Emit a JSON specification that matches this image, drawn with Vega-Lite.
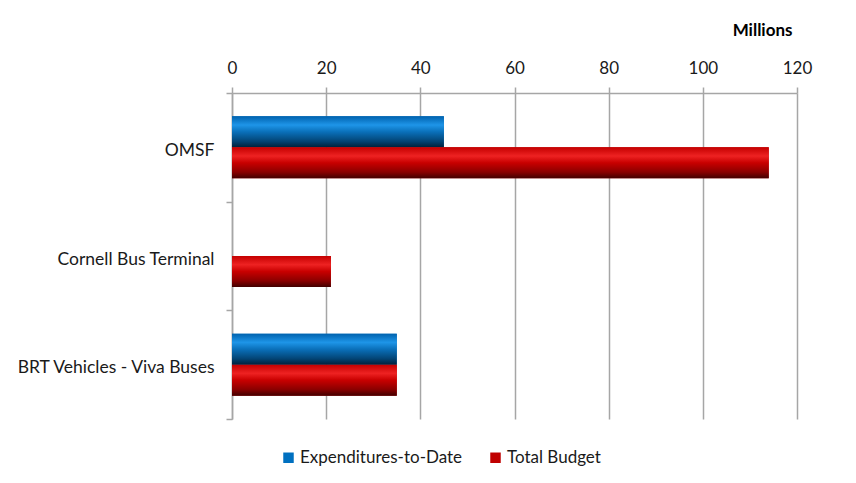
{
  "$schema": "https://vega.github.io/schema/vega-lite/v6.json",
  "autosize": "none",
  "width": 565,
  "height": 326,
  "padding": {"left": 232, "top": 93, "right": 59, "bottom": 64},
  "background": "white",
  "config": {
    "view": {"stroke": null},
    "font": "Lato",
    "axis": {"labelFont": "Lato", "titleFont": "Lato", "labelColor": "#000000", "titleColor": "#000000"}
  },
  "data": {
    "values": [
      {"project": "OMSF", "series": "Expenditures-to-Date", "value": 45},
      {"project": "OMSF", "series": "Total Budget", "value": 114},
      {"project": "Cornell Bus Terminal", "series": "Total Budget", "value": 21},
      {"project": "BRT Vehicles - Viva Buses", "series": "Expenditures-to-Date", "value": 35},
      {"project": "BRT Vehicles - Viva Buses", "series": "Total Budget", "value": 35}
    ]
  },
  "encoding": {
    "y": {
      "field": "project",
      "type": "nominal",
      "sort": ["OMSF", "Cornell Bus Terminal", "BRT Vehicles - Viva Buses"],
      "scale": {"paddingInner": 0, "paddingOuter": 0},
      "axis": {
        "title": null,
        "tickBand": "extent",
        "domainColor": "#a6a6a6",
        "domainWidth": 1.5,
        "tickColor": "#a6a6a6",
        "tickWidth": 1.5,
        "tickSize": 6,
        "labelFontSize": 17.5,
        "labelPadding": 12,
        "labelOffset": 3,
        "labelLimit": 0,
        "labelColor": "#1a1a1a",
        "grid": false
      }
    },
    "yOffset": {
      "field": "series",
      "type": "nominal",
      "scale": {"domain": ["Expenditures-to-Date", "Total Budget"], "paddingInner": 0, "paddingOuter": 0.753}
    },
    "x": {
      "field": "value",
      "type": "quantitative",
      "scale": {"domain": [0, 120], "nice": false},
      "axis": {
        "orient": "top",
        "values": [0, 20, 40, 60, 80, 100, 120],
        "title": "Millions",
        "titleFontWeight": "bold",
        "titleFontSize": 17,
        "titleAnchor": "end",
        "titleAlign": "right",
        "titlePadding": 20,
        "titleX": 560,
        "labelFontSize": 17,
        "labelPadding": 10,
        "labelFlush": false,
        "labelColor": "#1a1a1a",
        "grid": true,
        "gridColor": "#a6a6a6",
        "gridWidth": 1.5,
        "domainColor": "#a6a6a6",
        "domainWidth": 1.5,
        "tickColor": "#a6a6a6",
        "tickWidth": 1.5,
        "tickSize": 6
      }
    }
  },
  "layer": [
    {
      "mark": {"type": "bar"},
      "encoding": {
        "color": {
          "field": "series",
          "type": "nominal",
          "scale": {"domain": ["Expenditures-to-Date", "Total Budget"], "range": ["#0070c0", "#c00000"]},
          "legend": {
            "title": null,
            "orient": "none",
            "direction": "horizontal",
            "legendX": 48,
            "legendY": 356,
            "symbolType": "square",
            "symbolSize": 110,
            "symbolStrokeWidth": 0,
            "labelFontSize": 17,
            "labelColor": "#1a1a1a",
            "labelFont": "Lato",
            "labelLimit": 0,
            "columnPadding": 24,
            "labelOffset": 3
          }
        }
      }
    },
    {
      "transform": [{"filter": "datum.series === 'Expenditures-to-Date'"}],
      "mark": {
        "type": "bar",
        "color": {
          "gradient": "linear", "x1": 0, "y1": 0, "x2": 0, "y2": 1,
          "stops": [
            {"offset": 0, "color": "#0062ae"},
            {"offset": 0.28, "color": "#1e95e8"},
            {"offset": 0.5, "color": "#0a70ba"},
            {"offset": 0.8, "color": "#034576"},
            {"offset": 1, "color": "#00213b"}
          ]
        }
      }
    },
    {
      "transform": [{"filter": "datum.series === 'Total Budget'"}],
      "mark": {
        "type": "bar",
        "color": {
          "gradient": "linear", "x1": 0, "y1": 0, "x2": 0, "y2": 1,
          "stops": [
            {"offset": 0, "color": "#c40000"},
            {"offset": 0.28, "color": "#ee2222"},
            {"offset": 0.5, "color": "#c80000"},
            {"offset": 0.8, "color": "#8a0000"},
            {"offset": 1, "color": "#420000"}
          ]
        }
      }
    }
  ]
}
